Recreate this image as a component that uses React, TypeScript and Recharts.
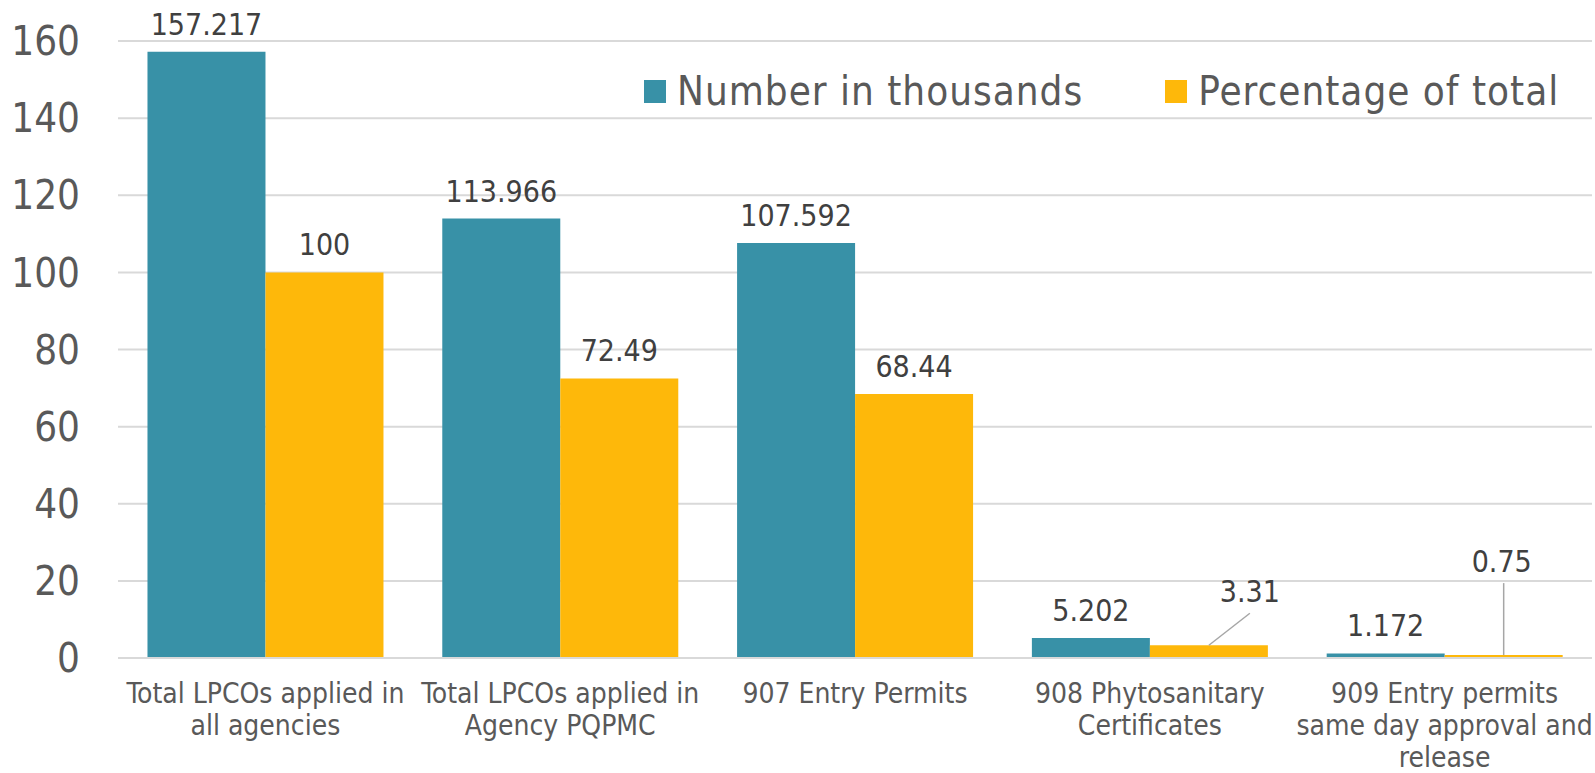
import React from "react"
import { Bar, BarChart, CartesianGrid, LabelList, Legend, XAxis, YAxis } from "recharts"

const categories = [
  "Total LPCOs applied in\nall agencies",
  "Total LPCOs applied in\nAgency PQPMC",
  "907 Entry Permits",
  "908 Phytosanitary\nCertificates",
  "909 Entry permits\nsame day approval and\nrelease",
]
const numberInThousands = [157.217, 113.966, 107.592, 5.202, 1.172]
const percentageOfTotal = [100, 72.49, 68.44, 3.31, 0.75]
const yTicks = [0, 20, 40, 60, 80, 100, 120, 140, 160]

const seriesNames = ["Number in thousands", "Percentage of total"]
const colors = ["#3891A7", "#FEB80A"]

const data = categories.map((name, i) => ({
  name,
  number: numberInThousands[i],
  percent: percentageOfTotal[i],
}))

const FONT = "'DejaVu Sans Condensed', 'DejaVu Sans', sans-serif"
const LABEL_COLOR = "#404040"
const AXIS_COLOR = "#595959"
const GRID_COLOR = "#D9D9D9"
const LEADER_COLOR = "#A6A6A6"

const CategoryTick = (props: any) => {
  const { x, y, payload } = props
  const lines = String(payload.value).split("\n")
  return (
    <text x={x} y={y} textAnchor="middle" fill={AXIS_COLOR} fontSize={28} fontFamily={FONT}>
      {lines.map((line, i) => (
        <tspan key={i} x={x} dy={i === 0 ? 45 : 32}>
          {line}
        </tspan>
      ))}
    </text>
  )
}

const makeLabel = (leaders: boolean) => (props: any) => {
  const { x, y, width, value, index } = props
  const cx = x + width / 2
  const textProps = {
    fill: LABEL_COLOR,
    fontSize: 30,
    fontFamily: FONT,
    textAnchor: "middle" as const,
  }
  if (leaders && index === 3) {
    return (
      <g>
        <line x1={cx} y1={y} x2={cx + 41} y2={y - 32} stroke={LEADER_COLOR} strokeWidth={1.5} />
        <text x={cx + 41} y={y - 43} {...textProps}>
          {value}
        </text>
      </g>
    )
  }
  if (leaders && index === 4) {
    return (
      <g>
        <line x1={cx} y1={y} x2={cx} y2={y - 72} stroke={LEADER_COLOR} strokeWidth={1.5} />
        <text x={cx - 2} y={y - 83} {...textProps}>
          {value}
        </text>
      </g>
    )
  }
  return (
    <text x={cx} y={y - 17} {...textProps}>
      {value}
    </text>
  )
}

const LegendContent = () => (
  <div
    style={{
      display: "flex",
      alignItems: "center",
      fontFamily: FONT,
      fontSize: 40,
      letterSpacing: 1,
      color: AXIS_COLOR,
    }}
  >
    {seriesNames.map((name, i) => (
      <div key={name} style={{ display: "flex", alignItems: "center", marginRight: i === 0 ? 82 : 0 }}>
        <span style={{ display: "inline-block", width: 22, height: 23, background: colors[i], marginRight: 11 }} />
        <span style={{ lineHeight: "46px" }}>{name}</span>
      </div>
    ))}
  </div>
)

export default function App() {
  return (
    <div style={{ position: "absolute", left: 0, top: 0, width: 1595, height: 773, background: "#fff" }}>
      <BarChart
        width={1595}
        height={773}
        data={data}
        margin={{ top: 41, right: 3, left: 0, bottom: 0 }}
        barCategoryGap="10%"
        barGap={0}
      >
        <CartesianGrid vertical={false} stroke={GRID_COLOR} strokeWidth={2} />
        <XAxis
          dataKey="name"
          height={115}
          tick={<CategoryTick />}
          tickLine={false}
          tickSize={0}
          tickMargin={0}
          axisLine={{ stroke: GRID_COLOR, strokeWidth: 2 }}
          interval={0}
        />
        <YAxis
          width={118}
          domain={[0, 160]}
          ticks={yTicks}
          axisLine={false}
          tickLine={false}
          tickSize={0}
          tickMargin={38}
          tick={{ fontSize: 40, fill: AXIS_COLOR, fontFamily: FONT }}
        />
        <Legend
          verticalAlign="middle"
          align="center"
          content={<LegendContent />}
          wrapperStyle={{ position: "absolute", top: 68, left: 644, width: "auto", height: "auto" }}
        />
        <Bar dataKey="number" name={seriesNames[0]} fill={colors[0]} isAnimationActive={false}>
          <LabelList dataKey="number" content={makeLabel(false)} />
        </Bar>
        <Bar dataKey="percent" name={seriesNames[1]} fill={colors[1]} isAnimationActive={false}>
          <LabelList dataKey="percent" content={makeLabel(true)} />
        </Bar>
      </BarChart>
    </div>
  )
}
